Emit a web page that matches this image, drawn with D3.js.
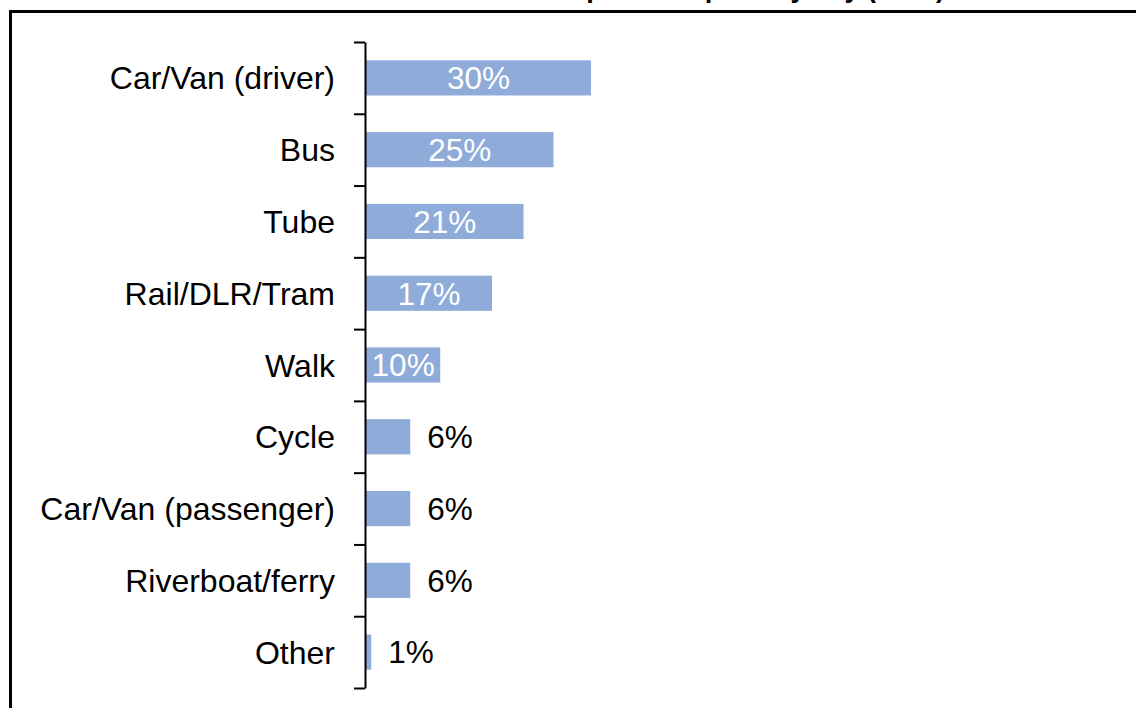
<!DOCTYPE html>
<html>
<head>
<meta charset="utf-8">
<script src="https://cdn.jsdelivr.net/npm/d3@7"></script>
<style>
	html, body { margin: 0; padding: 0; background: #fff; }
	svg { display: block; font-family: "Liberation Sans", Arial, sans-serif; }
</style>
</head>
<body>
<svg width="1136" height="708"></svg>
<script>
	// data
	var modes = ["Car/Van (driver)", "Bus", "Tube", "Rail/DLR/Tram", "Walk", "Cycle", "Car/Van (passenger)", "Riverboat/ferry", "Other"];
	var shares = [30, 25, 21, 16.8, 9.9, 5.9, 5.9, 5.9, 0.7];
	var shareLabels = ["30%", "25%", "21%", "17%", "10%", "6%", "6%", "6%", "1%"];
	var title = "Share of trips in the peak by day (000s)";

	var svg = d3.select("svg"), width = +svg.attr("width"), height = +svg.attr("height");

	// chart area frame (cut by the picture edge)
	svg.append("rect")
		.attr("x", 10.5).attr("y", 11.5)
		.attr("width", 2000).attr("height", 2000)
		.attr("fill", "none").attr("stroke", "#000").attr("stroke-width", 3);

	// title, mostly above the visible area
	svg.append("text")
		.attr("x", 945).attr("y", -3)
		.attr("text-anchor", "end")
		.attr("font-size", 27).attr("font-weight", "bold")
		.text(title);

	// scales
	var y = d3.scaleBand().domain(modes).range([42, 688]).padding(0);
	var yTick = d3.scaleLinear().domain([0, modes.length]).range([42, 688]);
	var x = d3.scaleLinear().domain([0, 40]).range([366, 666]);

	var barH = y.bandwidth() * 0.49;

	// bars
	svg.append("g").attr("class", "bars")
		.selectAll("rect").data(shares).enter().append("rect")
		.attr("x", x(0))
		.attr("y", function(d, i) { return y(modes[i]) + (y.bandwidth() - barH) / 2; })
		.attr("width", function(d) { return x(d) - x(0); })
		.attr("height", barH)
		.attr("fill", "#8eabd9");

	// category axis, ticks between categories
	var axis = svg.append("g").attr("class", "axis")
		.attr("transform", "translate(" + 365 + ",0)")
		.call(d3.axisLeft(yTick).tickValues(d3.range(0, modes.length + 1)).tickSize(11).tickSizeOuter(0).tickFormat(""));
	axis.select(".domain").attr("stroke", "#000").attr("stroke-width", 2);
	axis.selectAll(".tick line").attr("stroke", "#000").attr("stroke-width", 2);

	// category labels
	svg.append("g").attr("class", "labels")
		.selectAll("text").data(modes).enter().append("text")
		.attr("x", 335)
		.attr("y", function(d) { return y(d) + y.bandwidth() / 2; })
		.attr("dy", "0.36em")
		.attr("text-anchor", "end")
		.attr("font-size", 32)
		.attr("fill", "#000")
		.text(function(d) { return d; });

	// data labels: inside the long bars, after the short ones
	svg.append("g").attr("class", "values")
		.selectAll("text").data(shares).enter().append("text")
		.attr("x", function(d) { return d >= 9 ? (x(0) + x(d)) / 2 : x(d) + 17; })
		.attr("y", function(d, i) { return y(modes[i]) + y.bandwidth() / 2; })
		.attr("dy", "0.36em")
		.attr("text-anchor", function(d) { return d >= 9 ? "middle" : "start"; })
		.attr("font-size", 31.5)
		.attr("fill", function(d) { return d >= 9 ? "#fff" : "#000"; })
		.text(function(d, i) { return shareLabels[i]; });
</script>
</body>
</html>
